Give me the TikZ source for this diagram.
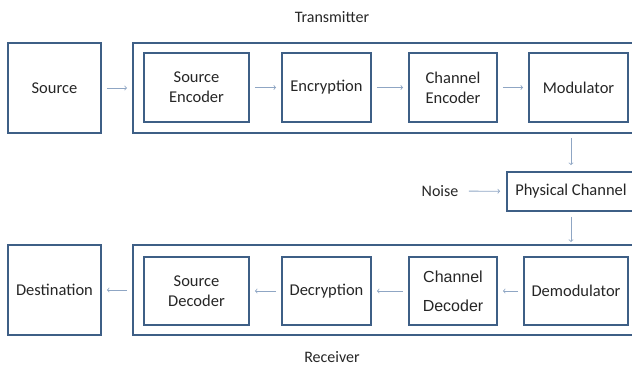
\documentclass[tikz,border=0pt]{standalone}
\usepackage{fontspec}
\setmainfont{Carlito}
\newfontfamily\arialfont{Liberation Sans}
\usetikzlibrary{positioning}
\definecolor{bord}{HTML}{3E5F86}
\definecolor{fleche}{HTML}{8FA6C4}
\definecolor{texte}{HTML}{262626}
\tikzset{
	bloc/.style={draw=bord,line width=1.8pt,fill=white,text=texte,align=center,
		font=\fontsize{16.5}{20}\selectfont,inner sep=0pt},
	cadre/.style={draw=bord,line width=2pt,inner sep=0pt},
	fl/.style={->,draw=fleche,line width=0.8pt,shorten <=5pt,shorten >=5pt},
	titre/.style={text=texte,font=\fontsize{16}{18}\selectfont}
}
\begin{document}
\begin{tikzpicture}[x=1pt,y=-1pt]
%					Cadre de la figure :
					\useasboundingbox (0,0) rectangle (632,367);
%					Emetteur :
					\node[cadre,minimum width=503pt,minimum height=90pt] (emetteur) at (384.5,88) {};
					\node[titre] (temetteur) at (332,17) {Transmitter};
					\node[bloc,minimum width=93pt,minimum height=90pt] (source) at (54.5,88) {Source};
					\node[bloc,minimum width=105pt,minimum height=69pt] (codsource) at (196.5,87.5) {Source\\Encoder};
					\node[bloc,minimum width=89pt,minimum height=69pt] (chiffrement) at (326.5,87.5) {Encryption};
					\node[bloc,minimum width=88pt,minimum height=69pt] (codcanal) at (453,87.5) {Channel\\Encoder};
					\node[bloc,minimum width=99pt,minimum height=69pt] (modulateur) at (578.5,87.5) {Modulator};
%					Canal :
					\node[bloc,minimum width=128pt,minimum height=39pt] (canal) at (571,191.5) {Physical Channel};
					\node[titre] (bruit) at (440,191) {Noise};
%					Recepteur :
					\node[cadre,minimum width=503pt,minimum height=90pt] (recepteur) at (384.5,290) {};
					\node[titre] (trecepteur) at (332,357) {Receiver};
					\node[bloc,minimum width=93pt,minimum height=90pt] (destination) at (54.5,290) {Destination};
					\node[bloc,minimum width=105pt,minimum height=68pt] (decsource) at (196.5,291) {Source\\Decoder};
					\node[bloc,minimum width=89pt,minimum height=68pt] (dechiffrement) at (326.5,291) {Decryption};
					\node[bloc,minimum width=88pt,minimum height=68pt,font=\arialfont\fontsize{16}{29}\selectfont] (deccanal) at (453,291) {Channel\\Decoder};
					\node[bloc,minimum width=104pt,minimum height=68pt] (demodulateur) at (576,291) {Demodulator};
%					Fleches :
					\draw[fl] (source) -- (emetteur.west |- source);
					\draw[fl] (codsource) -- (chiffrement);
					\draw[fl] (chiffrement) -- (codcanal);
					\draw[fl] (codcanal) -- (modulateur);
					\draw[fl,shorten <=4pt,shorten >=6pt] (emetteur.south -| canal.north) -- (canal.north);
					\draw[fl,shorten <=7pt,shorten >=6pt] (bruit) -- (canal);
					\draw[fl,shorten >=2pt] (canal.south) -- (canal.south |- recepteur.north);
					\draw[fl] (demodulateur) -- (deccanal);
					\draw[fl] (deccanal) -- (dechiffrement);
					\draw[fl] (dechiffrement) -- (decsource);
					\draw[fl] (recepteur.west |- destination) -- (destination);
				\end{tikzpicture}
\end{document}
